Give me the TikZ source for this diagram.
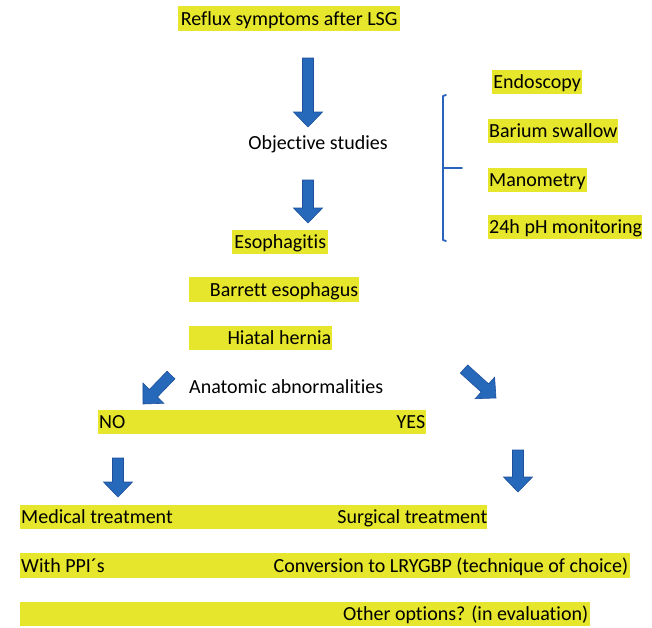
\documentclass[tikz,border=0pt]{standalone}
\usepackage{fontspec}
\setmainfont{Carlito}[Ligatures={NoCommon}]
\usetikzlibrary{calc}
\definecolor{hlyellow}{RGB}{230,230,45}
\definecolor{arrowblue}{RGB}{38,104,186}
\definecolor{arrowedge}{RGB}{30,80,155}
\definecolor{bracketblue}{RGB}{40,100,190}
\tikzset{
  hl/.style={fill=hlyellow, inner sep=0pt, text height=18.8pt, text depth=5.6pt,
             font=\fontsize{20}{24}\selectfont},
  plain/.style={inner sep=0pt, text height=18.8pt, text depth=5.6pt,
             font=\fontsize{20}{24}\selectfont},
  blockarr/.style={fill=arrowblue, draw=arrowedge, line width=0.6pt, line join=miter},
  bracketline/.style={draw=bracketblue, line width=1.8pt, line cap=round, line join=round}
}
% #1 tail coordinate, #2 tip coordinate
\newcommand\myblockarrow[2]{%
  \coordinate (hb) at ($(#2)!15pt!(#1)$);
  \draw[blockarr] ($(#1)!5.5pt!90:(#2)$) -- ($(hb)!5.5pt!90:(#2)$) -- ($(hb)!14.5pt!90:(#2)$)
    -- (#2) -- ($(hb)!14.5pt!-90:(#2)$) -- ($(hb)!5.5pt!-90:(#2)$) -- ($(#1)!5.5pt!-90:(#2)$) -- cycle;
}
\begin{document}
\begin{tikzpicture}[x=1pt, y=-1pt]
\useasboundingbox (0,0) rectangle (652,627);

% text boxes
\node[hl, anchor=west] (reflux) at (178,18.5) {\makebox[222pt]{Reflux symptoms after LSG}};
\node[plain] (objective) at (318,142.5) {Objective studies};
\node[hl, anchor=west] (esoph) at (232,242) {\makebox[96pt]{Esophagitis}};

\node[hl, anchor=west] (endo) at (492,82) {\makebox[90pt]{Endoscopy}};
\node[hl, anchor=west] (barium) at (488,131) {\makebox[130pt][l]{\hspace{1pt}Barium swallow}};
\node[hl, anchor=west] (mano) at (488,180) {\makebox[99pt][l]{\hspace{1pt}Manometry}};
\node[hl, anchor=west] (ph) at (488,227) {\makebox[154pt][l]{\hspace{1pt}24h pH monitoring}};

\node[hl, anchor=west] (barrett) at (189,289.5) {\makebox[170pt][r]{Barrett esophagus\hspace{1pt}}};
\node[hl, anchor=west] (hiatal) at (189,338) {\makebox[143pt][r]{Hiatal hernia\hspace{1pt}}};
\node[plain, anchor=west] (anat) at (189,386.5) {Anatomic abnormalities};

\node[hl, anchor=west] (noyes) at (98,422) {\makebox[328pt][s]{\hspace{1pt}NO\hfill YES\hspace{1pt}}};

\node[hl, anchor=west] (medsurg) at (20,517) {\makebox[467pt][s]{\hspace{1pt}Medical treatment\hfill Surgical treatment}};
\node[hl, anchor=west] (ppi) at (20,565.5) {\makebox[610pt][s]{\hspace{1pt}With PPI´s\hfill Conversion to LRYGBP (technique of choice)\hspace{2pt}}};
\node[hl, anchor=west] (other) at (20,614) {\makebox[570pt][r]{Other options? (in evaluation)\hspace{2pt}}};

% arrow end points
\coordinate (a1t) at (308,58);   \coordinate (a1h) at (308,127);
\coordinate (a2t) at (308,180);  \coordinate (a2h) at (308,223);
\coordinate (a3t) at (171,375);  \coordinate (a3h) at (143,404);
\coordinate (a4t) at (464,369);  \coordinate (a4h) at (496,398);
\coordinate (a5t) at (118,458);  \coordinate (a5h) at (118,497);
\coordinate (a6t) at (518,450);  \coordinate (a6h) at (518,492);

\myblockarrow{a1t}{a1h}
\myblockarrow{a2t}{a2h}
\myblockarrow{a3t}{a3h}
\myblockarrow{a4t}{a4h}
\myblockarrow{a5t}{a5h}
\myblockarrow{a6t}{a6h}

% bracket
\coordinate (bt) at (443,96);
\coordinate (bb) at (443,240);
\coordinate (bm) at (443,168);
\coordinate (bx) at (462,168);
\draw[bracketline] ($(bt)+(3,-1)$) -- (bt) -- (bb) -- ($(bb)+(3,1)$);
\draw[bracketline] (bm) -- (bx);
\end{tikzpicture}
\end{document}
